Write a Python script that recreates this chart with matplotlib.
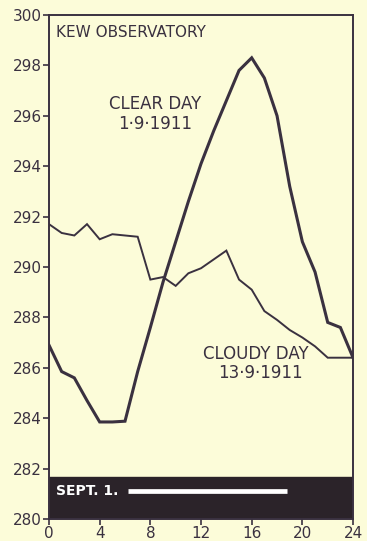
import matplotlib
matplotlib.use("Agg")
import matplotlib.pyplot as plt

# Hourly temperatures (K) at Kew Observatory
hours = list(range(0, 25))
clear_day = [286.9, 285.85, 285.6, 284.7, 283.85, 283.85, 283.88, 285.85, 287.6,
             289.4, 291.0, 292.6, 294.1, 295.4, 296.6, 297.8, 298.3, 297.5,
             296.0, 293.2, 291.0, 289.8, 287.8, 287.6, 286.4]
cloudy_day = [291.7, 291.35, 291.25, 291.7, 291.1, 291.3, 291.25, 291.2, 289.5,
              289.6, 289.25, 289.75, 289.95, 290.3, 290.65, 289.5, 289.1, 288.25,
              287.9, 287.5, 287.2, 286.85, 286.4, 286.4, 286.4]

x_ticks = [0, 4, 8, 12, 16, 20, 24]
y_ticks = [280, 282, 284, 286, 288, 290, 292, 294, 296, 298, 300]

# Daylight strip for Sept. 1 (sunrise to sunset, hours)
daylight = [6.2, 18.75]

paper = "#fcfcd9"
ink = "#3a3140"
band = "#2b2329"

plt.rcParams["font.family"] = ["DejaVu Sans"]

fig = plt.figure(figsize=(3.67, 5.41), dpi=100, facecolor=paper)
ax = fig.add_axes([0.1335, 0.0407, 0.8285, 0.9316], facecolor=paper)

ax.plot(hours, cloudy_day, color=ink, lw=1.4, solid_joinstyle="miter", zorder=3)
ax.plot(hours, clear_day, color=ink, lw=2.2, solid_joinstyle="miter", zorder=4)

# Black strip along the bottom with the daylight bar
ax.axhspan(280, 281.65, color=band, zorder=2)
ax.plot(daylight, [281.12, 281.12], color="white", lw=3.4, solid_capstyle="butt", zorder=5)
ax.text(0.59, 281.1, "SEPT. 1.", color="white", fontsize=10, fontweight="bold",
        va="center", ha="left", zorder=5)

ax.set_xlim(0, 24)
ax.set_ylim(280, 300)
ax.set_xticks(x_ticks)
ax.set_yticks(y_ticks)

for s in ax.spines.values():
    s.set_color(ink)
    s.set_linewidth(1.4)

ax.tick_params(axis="both", colors=ink, labelcolor=ink, labelsize=11,
               length=4, width=1.2, direction="out", pad=1)

ax.text(0.59, 299.3, "KEW OBSERVATORY", color=ink, fontsize=11,
        ha="left", va="center")
ax.text(8.38, 296.47, "CLEAR DAY", color=ink, fontsize=12, ha="center", va="center")
ax.text(8.4, 295.67, "1·9·1911", color=ink, fontsize=12, ha="center", va="center")
ax.text(16.3, 286.55, "CLOUDY DAY", color=ink, fontsize=12, ha="center", va="center")
ax.text(16.7, 285.79, "13·9·1911", color=ink, fontsize=12, ha="center", va="center")

fig.savefig("out.png", dpi=100, facecolor=paper)
